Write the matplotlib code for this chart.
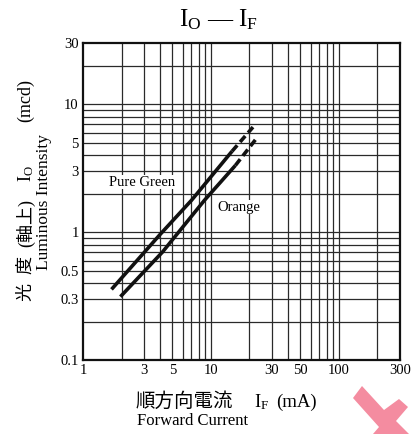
import matplotlib
matplotlib.use("Agg")
import matplotlib.pyplot as plt
from matplotlib.patches import Polygon
from matplotlib.ticker import FixedLocator, NullFormatter

plt.rcParams['font.family'] = ['Liberation Serif', 'Noto Sans CJK JP']
plt.rcParams['mathtext.fontset'] = 'custom'
plt.rcParams['mathtext.rm'] = 'Liberation Serif'
plt.rcParams['mathtext.it'] = 'Liberation Serif'

# DATA
green_if = [1.67, 4.0, 7.05, 14.6]
green_io = [0.357, 0.96, 1.78, 4.3]
green_dash_if = [14.6, 21.3]
green_dash_io = [4.3, 6.65]

orange_if = [1.96, 4.18, 8.9, 15.5]
orange_io = [0.313, 0.70, 1.78, 3.33]
orange_dash_if = [15.5, 22.6]
orange_dash_io = [3.33, 5.4]

xticks = [1, 3, 5, 10, 30, 50, 100, 300]
xticklabels = ['1', '3', '5', '10', '30', '50', '100', '300']
yticks = [0.1, 0.3, 0.5, 1, 3, 5, 10, 30]
yticklabels = ['0.1', '0.3', '0.5', '1', '3', '5', '10', '30']

xgrid = [2, 3, 4, 5, 6, 7, 8, 9, 10, 20, 30, 40, 50, 60, 70, 80, 90, 100, 200]
ygrid = [0.2, 0.3, 0.4, 0.5, 0.6, 0.7, 0.8, 0.9, 1, 2, 3, 4, 5, 6, 7, 8, 9, 10, 20]

W, H = 412, 434
fig = plt.figure(figsize=(W / 100, H / 100), dpi=100)
ax = fig.add_axes([83 / W, 1 - 360 / H, (400 - 83) / W, (360 - 43.5) / H])
ax.set_xscale('log')
ax.set_yscale('log')
ax.set_xlim(1, 300)
ax.set_ylim(0.1, 30)

for g in xgrid:
    ax.axvline(g, color='#2a2a2a', lw=0.9, zorder=1)
for g in ygrid:
    ax.axhline(g, color='#2a2a2a', lw=0.9, zorder=1)

ax.plot(green_if, green_io, color='#111111', lw=2.6, solid_capstyle='butt', zorder=3)
ax.plot(green_dash_if, green_dash_io, color='#111111', lw=2.6, ls=(0, (2.2, 1.2)), zorder=3)
ax.plot(orange_if, orange_io, color='#111111', lw=2.6, solid_capstyle='butt', zorder=3)
ax.plot(orange_dash_if, orange_dash_io, color='#111111', lw=2.6, ls=(0, (2.2, 1.2)), zorder=3)

ax.text(2.9, 2.47, 'Pure Green', fontsize=10.5, ha='center', va='center',
        zorder=4, bbox=dict(fc='white', ec='none', pad=0.5))
ax.text(16.6, 1.57, 'Orange', fontsize=10.5, ha='center', va='center',
        zorder=4, bbox=dict(fc='white', ec='none', pad=0.5))

ax.xaxis.set_major_locator(FixedLocator(xticks))
ax.set_xticklabels(xticklabels)
ax.yaxis.set_major_locator(FixedLocator(yticks))
ax.set_yticklabels(yticklabels)
ax.xaxis.set_minor_formatter(NullFormatter())
ax.yaxis.set_minor_formatter(NullFormatter())
ax.tick_params(which='both', length=0, labelsize=10.5, pad=3)
for s in ax.spines.values():
    s.set_linewidth(1.6)
    s.set_color('#111111')

# title and axis labels (CJK pieces kept apart from the mathtext pieces)
fig.text(218 / W, 1 - 20 / H, r'$\mathrm{I_O}$ — $\mathrm{I_F}$', fontsize=18,
         ha='center', va='center')

ylab_parts = [('光', 292), ('度', 265), ('(軸上)', 223),
              (r'$\mathrm{I_O}$', 174), ('(mcd)', 100)]
for txt, ypx in ylab_parts:
    fig.text(26 / W, 1 - ypx / H, txt, fontsize=13, rotation=90,
             ha='center', va='center')
fig.text(44 / W, 1 - 202 / H, 'Luminous Intensity', fontsize=12.5,
         rotation=90, ha='center', va='center')

fig.text(136 / W, 1 - 402 / H, '順方向電流', fontsize=14, ha='left', va='center')
fig.text(254 / W, 1 - 402 / H, r'$\mathrm{I_F}$', fontsize=13.5,
         ha='left', va='center')
fig.text(276 / W, 1 - 402 / H, '(mA)', fontsize=13.5, ha='left', va='center')
fig.text(137 / W, 1 - 421 / H, 'Forward Current', fontsize=12,
         ha='left', va='center')

# pink arrow overlay seen in the bottom-right corner
arrow_px = [(353, 398), (362, 386), (384, 410), (399, 399), (408, 407),
            (396, 421), (409, 434), (373, 434), (379, 427)]
fig.patches.append(Polygon([(x / W, 1 - y / H) for x, y in arrow_px],
                           closed=True, transform=fig.transFigure,
                           fc='#f48ca0', ec='none'))

fig.savefig('out.png', dpi=100)
